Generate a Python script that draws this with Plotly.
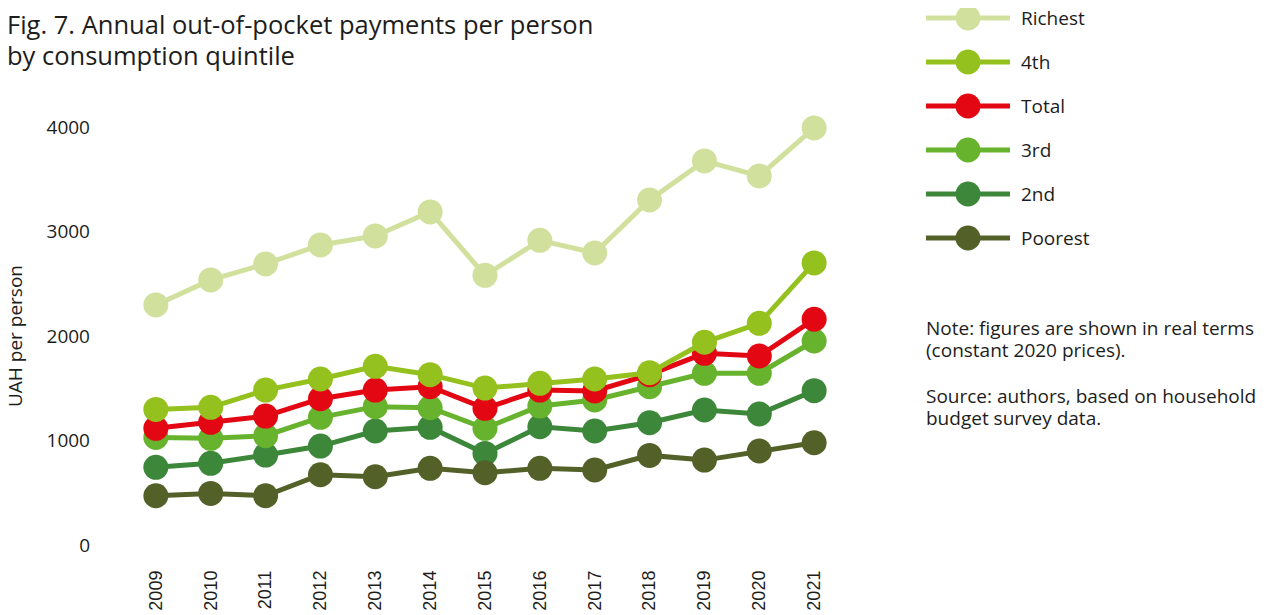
import plotly.graph_objects as go

years = [2009, 2010, 2011, 2012, 2013, 2014, 2015, 2016, 2017, 2018, 2019, 2020, 2021]
richest = [2297, 2536, 2689, 2871, 2957, 3187, 2580, 2915, 2794, 3301, 3675, 3531, 3990]
fourth = [1298, 1318, 1483, 1589, 1710, 1630, 1502, 1547, 1589, 1649, 1940, 2121, 2699]
total = [1117, 1174, 1234, 1400, 1483, 1515, 1308, 1483, 1474, 1630, 1834, 1809, 2160]
third = [1030, 1021, 1046, 1222, 1324, 1314, 1117, 1330, 1388, 1515, 1643, 1643, 1952]
second = [744, 782, 861, 947, 1091, 1126, 877, 1132, 1091, 1171, 1292, 1254, 1477]
poorest = [472, 494, 472, 673, 654, 734, 692, 734, 718, 858, 813, 900, 979]

series_names = ["Richest", "4th", "Total", "3rd", "2nd", "Poorest"]
series_values = [richest, fourth, total, third, second, poorest]
series_colors = ["#d1e19d", "#95c11f", "#e30613", "#67b32e", "#3c8739", "#536129"]
draw_order = ["Richest", "2nd", "Poorest", "3rd", "Total", "4th"]

y_ticks = [0, 1000, 2000, 3000, 4000]

title_lines = ["Fig. 7. Annual out-of-pocket payments per person", "by consumption quintile"]
y_title = "UAH per person"
note_lines = ["Note: figures are shown in real terms", "(constant 2020 prices).",
              "Source: authors, based on household", "budget survey data."]

# page has an 8px body margin; figure sized to fit the window
OFF = 8
W, H = 1270 - OFF, 615 - OFF
ML, MR, MT, MB = 93, 20, 0, 49
PW, PH = W - ML - MR, H - MT - MB


def px(xp):
    return (xp - OFF - ML) / PW


def py(yp):
    return (PH - (yp - OFF - MT)) / PH


FONT = "Open Sans"
TXT = "#1d1d1b"

fig = go.Figure()

lookup = dict(zip(series_names, zip(series_values, series_colors)))
for name in draw_order:
    vals, col = lookup[name]
    fig.add_trace(go.Scatter(
        x=years, y=vals, mode="lines+markers", name=name,
        line=dict(color=col, width=5),
        marker=dict(color=col, size=25),
        cliponaxis=False, showlegend=False, xaxis="x", yaxis="y",
    ))

# custom legend drawn on its own small axes
for i, (name, col) in enumerate(zip(series_names, series_colors)):
    fig.add_trace(go.Scatter(
        x=[0, 0.5, 1], y=[i, i, i], mode="lines",
        line=dict(color=col, width=5), showlegend=False,
        xaxis="x2", yaxis="y2", hoverinfo="skip",
    ))
    fig.add_trace(go.Scatter(
        x=[0.5], y=[i], mode="markers",
        marker=dict(color=col, size=25), showlegend=False,
        xaxis="x2", yaxis="y2", cliponaxis=False, hoverinfo="skip",
    ))
    fig.add_annotation(x=1, y=i, xref="x2", yref="y2", text=name,
                       showarrow=False, xanchor="left", yanchor="middle",
                       xshift=10, borderpad=0,
                       font=dict(family=FONT, size=19, color=TXT))

for line, yc in zip(title_lines, [24, 55]):
    fig.add_annotation(x=px(6), y=py(yc), xref="paper", yref="paper", text=line,
                       showarrow=False, xanchor="left", yanchor="middle", borderpad=0,
                       font=dict(family=FONT, size=25.5, color=TXT))

fig.add_annotation(x=px(15), y=py(336), xref="paper", yref="paper", text=y_title,
                   showarrow=False, textangle=-90, xanchor="center", yanchor="middle",
                   borderpad=0, font=dict(family=FONT, size=19, color=TXT))

for line, yc in zip(note_lines, [328, 350, 396, 418]):
    fig.add_annotation(x=px(925), y=py(yc), xref="paper", yref="paper", text=line,
                       showarrow=False, xanchor="left", yanchor="middle", borderpad=0,
                       font=dict(family=FONT, size=19, color=TXT))

fig.update_layout(
    width=W, height=H,
    margin=dict(l=ML, r=MR, t=MT, b=MB),
    paper_bgcolor="white", plot_bgcolor="white",
    showlegend=False,
    xaxis=dict(domain=[0, px(869)], range=[2008, 2022], tickmode="array",
               tickvals=years, ticktext=[str(y) for y in years], tickangle=-90,
               showgrid=False, zeroline=False, showline=False,
               tickfont=dict(family="Liberation Sans", size=18, color=TXT)),
    yaxis=dict(domain=[0, py(106)], range=[-200, 4200], tickmode="array",
               tickvals=y_ticks, showgrid=False, zeroline=False, showline=False,
               ticklabelstandoff=10,
               tickfont=dict(family=FONT, size=19, color=TXT)),
    xaxis2=dict(domain=[px(926), px(1010)], range=[0, 1], visible=False,
                anchor="y2"),
    yaxis2=dict(domain=[py(260), py(OFF)], range=[5.5, -0.227], visible=False,
                anchor="x2"),
)

fig.write_html("out.html")
